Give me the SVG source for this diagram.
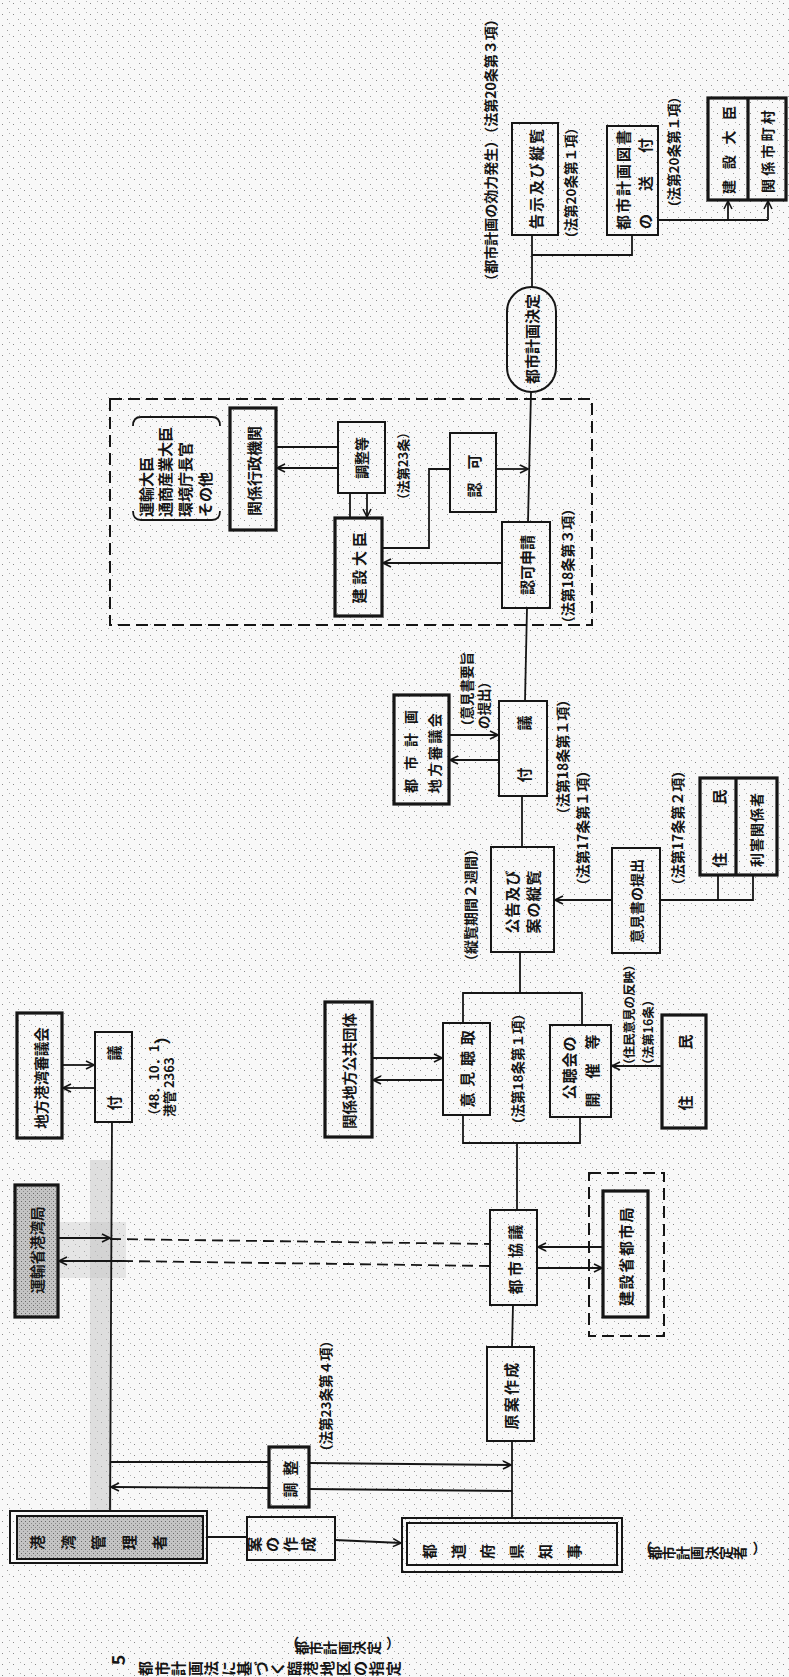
<svg xmlns="http://www.w3.org/2000/svg" width="789" height="1677" viewBox="0 0 789 1677">
<defs>
<style>
.t{font-family:"Noto Sans CJK JP","Noto Sans CJK SC",sans-serif;font-weight:700;fill:#151515}
.r{text-anchor:middle;dominant-baseline:central}
.rs{text-anchor:start;dominant-baseline:central}
.g{text-anchor:start;dominant-baseline:central}
.bx{fill:none;stroke:#151515;stroke-width:2}
.bk{fill:none;stroke:#151515;stroke-width:3.2}
.gy{fill:url(#gray);stroke:#151515;stroke-width:3.2}
.ds{fill:none;stroke:#151515;stroke-width:2;stroke-dasharray:12 6}
.ln{fill:none;stroke:#151515;stroke-width:1.8}
.dl{fill:none;stroke:#151515;stroke-width:1.8;stroke-dasharray:11 6}
.ar{marker-end:url(#ah)}
</style>
<marker id="ah" markerWidth="10" markerHeight="10" refX="9" refY="5" orient="auto" markerUnits="userSpaceOnUse">
<path d="M1,1 L9,5 L1,9" fill="none" stroke="#151515" stroke-width="1.6"/>
</marker>
<pattern id="dots" width="11" height="11" patternUnits="userSpaceOnUse">
<rect width="11" height="11" fill="#f8f8f8"/>
<rect x="2" y="3" width="1" height="1" fill="#8a8a8a"/>
<rect x="7" y="8" width="1" height="1" fill="#9a9a9a"/>
<rect x="9" y="1" width="1" height="1" fill="#b0b0b0"/>
</pattern>
<pattern id="gray" width="4" height="4" patternUnits="userSpaceOnUse">
<rect width="4" height="4" fill="#c4c4c4"/>
<rect x="1" y="1" width="1" height="1" fill="#6a6a6a"/>
<rect x="3" y="3" width="1" height="1" fill="#8a8a8a"/>
</pattern>
</defs>
<rect width="789" height="1677" fill="url(#dots)"/>
<rect x="90" y="1160" width="22" height="351" fill="#c4c4c4" opacity="0.5"/>
<rect x="58" y="1222" width="68" height="56" fill="#c4c4c4" opacity="0.35"/>

<!-- top area -->
<g id="label-kouryoku"><text class="t r" font-size="14" x="490" y="150" transform="rotate(-90 490 150)">（都市計画の効力発生）（法第20条第３項）</text></g>
<g id="n-kokuji"><rect class="bx" x="512" y="123" width="46" height="112"/><text class="t r" font-size="15" letter-spacing="2" x="535" y="178" transform="rotate(-90 535 178)">告示及び縦覧</text></g>
<g id="label-20-1a"><text class="t r" font-size="13.5" x="570" y="183" transform="rotate(-90 570 183)">（法第20条第１項）</text></g>
<g id="n-tosho"><rect class="bx" x="607" y="126" width="51" height="109"/>
<text class="t r" font-size="15" letter-spacing="2" x="622" y="179" transform="rotate(-90 622 179)">都市計画図書</text>
<text class="t r" font-size="15" letter-spacing="4" x="644" y="181.5" transform="rotate(-90 644 181.5)">の　送　付</text></g>
<g id="label-20-1b"><text class="t r" font-size="13.5" x="673" y="152" transform="rotate(-90 673 152)">（法第20条第１項）</text></g>
<g id="n-daijin-shichoson"><rect class="bk" x="708" y="98" width="78" height="102"/><line class="bk" x1="748" y1="98" x2="748" y2="200"/>
<text class="t r" font-size="14" letter-spacing="10.7" x="728" y="144.6" transform="rotate(-90 728 144.6)">建設大臣</text>
<text class="t r" font-size="14" letter-spacing="3.2" x="767" y="150" transform="rotate(-90 767 150)">関係市町村</text></g>
<g id="n-kettei"><rect class="bx" x="507" y="287" width="49" height="105" rx="24.5"/><text class="t r" font-size="15" x="531" y="339" transform="rotate(-90 531 339)">都市計画決定</text></g>

<!-- dashed ministerial box -->
<g id="g-ninka-area"><rect class="ds" x="110" y="399" width="482" height="226"/></g>
<g id="n-others">
<path class="ln" stroke-width="2" d="M133,426 Q133,417 141,417 L212,417 Q220,417 220,426"/>
<path class="ln" stroke-width="2" d="M133,511 Q133,520 141,520 L212,520 Q220,520 220,511"/>
<text class="t rs" font-size="15" x="145" y="517" transform="rotate(-90 145 517)">運輸大臣</text>
<text class="t rs" font-size="15" x="164" y="517" transform="rotate(-90 164 517)">通商産業大臣</text>
<text class="t rs" font-size="15" x="184" y="517" transform="rotate(-90 184 517)">環境庁長官</text>
<text class="t rs" font-size="15" x="204" y="517" transform="rotate(-90 204 517)">その他</text></g>
<g id="n-gyosei"><rect class="bk" x="230" y="408" width="46" height="122"/><text class="t r" font-size="15" x="253" y="471" transform="rotate(-90 253 471)">関係行政機関</text></g>
<g id="n-chosei-to"><rect class="bx" x="338" y="422" width="47" height="71"/><text class="t r" font-size="14" x="361" y="458" transform="rotate(-90 361 458)">調整等</text></g>
<g id="label-23"><text class="t r" font-size="13" x="402" y="466" transform="rotate(-90 402 466)">（法第23条）</text></g>
<g id="n-kensetsu"><rect class="bk" x="335" y="518" width="47" height="98"/><text class="t r" font-size="15" letter-spacing="3.7" x="358" y="566" transform="rotate(-90 358 566)">建設大臣</text></g>
<g id="n-ninka"><rect class="bx" x="450" y="433" width="46" height="79"/><text class="t r" font-size="15" letter-spacing="13" x="473" y="469.5" transform="rotate(-90 473 469.5)">認可</text></g>
<g id="n-shinsei"><rect class="bx" x="502" y="522" width="48" height="86"/><text class="t r" font-size="15" x="526" y="565" transform="rotate(-90 526 565)">認可申請</text></g>
<g id="label-18-3"><text class="t r" font-size="14" x="567" y="566" transform="rotate(-90 567 566)">（法第18条第３項）</text></g>

<!-- middle -->
<g id="n-shingikai"><rect class="bk" x="394" y="695" width="55" height="109"/>
<text class="t r" font-size="14" letter-spacing="9" x="410" y="747" transform="rotate(-90 410 747)">都市計画</text>
<text class="t r" font-size="14" letter-spacing="2.5" x="434" y="752" transform="rotate(-90 434 752)">地方審議会</text></g>
<g id="label-yoshi">
<text class="t rs" font-size="13.5" x="466" y="733" transform="rotate(-90 466 733)">（意見書要旨</text>
<text class="t rs" font-size="13.5" x="483" y="729" transform="rotate(-90 483 729)">の提出）</text></g>
<g id="n-fugi"><rect class="bx" x="499" y="701" width="48" height="95"/><text class="t r" font-size="15" letter-spacing="37" x="523" y="730.5" transform="rotate(-90 523 730.5)">付議</text></g>
<g id="label-18-1a"><text class="t r" font-size="14" x="562" y="757" transform="rotate(-90 562 757)">（法第18条第１項）</text></g>
<g id="label-17-1"><text class="t r" font-size="14" x="582" y="828" transform="rotate(-90 582 828)">（法第17条第１項）</text></g>
<g id="label-17-2"><text class="t r" font-size="14" x="677" y="828" transform="rotate(-90 677 828)">（法第17条第２項）</text></g>
<g id="label-2weeks"><text class="t r" font-size="14" x="470" y="905" transform="rotate(-90 470 905)">（縦覧期間２週間）</text></g>
<g id="n-kokoku"><rect class="bx" x="491" y="847" width="63" height="105"/>
<text class="t r" font-size="15" letter-spacing="1" x="511" y="901.5" transform="rotate(-90 511 901.5)">公告及び</text>
<text class="t r" font-size="15" letter-spacing="1" x="532" y="901.5" transform="rotate(-90 532 901.5)">案の縦覧</text></g>
<g id="n-ikensho"><rect class="bx" x="612" y="848" width="48" height="105"/><text class="t r" font-size="14" x="636" y="901" transform="rotate(-90 636 901)">意見書の提出</text></g>
<g id="n-jumin-rigai"><rect class="bk" x="700" y="778" width="77" height="97"/><line class="bk" x1="736" y1="778" x2="736" y2="875"/>
<text class="t r" font-size="15" letter-spacing="48" x="718" y="804.5" transform="rotate(-90 718 804.5)">住民</text>
<text class="t r" font-size="14" letter-spacing="1" x="756" y="829.5" transform="rotate(-90 756 829.5)">利害関係者</text></g>

<g id="n-iken"><rect class="bx" x="443" y="1023" width="47" height="92"/><text class="t r" font-size="15" letter-spacing="5.7" x="466" y="1066" transform="rotate(-90 466 1066)">意見聴取</text></g>
<g id="n-kokyo"><rect class="bk" x="325" y="1002" width="47" height="135"/><text class="t r" font-size="14.5" x="348" y="1071" transform="rotate(-90 348 1071)">関係地方公共団体</text></g>
<g id="label-18-1b"><text class="t r" font-size="13.5" x="517" y="1069" transform="rotate(-90 517 1069)">（法第18条第１項）</text></g>
<g id="n-kochokai"><rect class="bx" x="550" y="1025" width="61" height="92"/>
<text class="t r" font-size="15" letter-spacing="1" x="568" y="1067.5" transform="rotate(-90 568 1067.5)">公聴会の</text>
<text class="t r" font-size="15" letter-spacing="14" x="591" y="1064" transform="rotate(-90 591 1064)">開催等</text></g>
<g id="label-16">
<text class="t rs" font-size="12.5" x="628" y="1071" transform="rotate(-90 628 1071)">（住民意見の反映）</text>
<text class="t rs" font-size="12.5" x="647" y="1071" transform="rotate(-90 647 1071)">（法第16条）</text></g>
<g id="n-jumin"><rect class="bk" x="662" y="1015" width="44" height="113"/><text class="t r" font-size="15" letter-spacing="46" x="684" y="1049.5" transform="rotate(-90 684 1049.5)">住民</text></g>
<g id="n-toshi-kyogi"><rect class="bx" x="490" y="1210" width="47" height="95"/><text class="t r" font-size="15" letter-spacing="3.3" x="514" y="1258" transform="rotate(-90 514 1258)">都市協議</text></g>
<g id="n-toshikyoku"><rect class="ds" x="589" y="1173" width="75" height="163"/><rect class="bk" x="603" y="1191" width="45" height="126"/><text class="t r" font-size="15" letter-spacing="1.7" x="625" y="1256" transform="rotate(-90 625 1256)">建設省都市局</text></g>
<g id="n-genan"><rect class="bx" x="487" y="1347" width="47" height="94"/><text class="t r" font-size="15" letter-spacing="2.3" x="510" y="1395" transform="rotate(-90 510 1395)">原案作成</text></g>

<!-- left -->
<g id="n-kowan-shingikai"><rect class="bk" x="17" y="1013" width="45" height="125"/><text class="t r" font-size="14.5" x="40" y="1078" transform="rotate(-90 40 1078)">地方港湾審議会</text></g>
<g id="n-fugi2"><rect class="bx" x="95" y="1032" width="37" height="90"/><text class="t r" font-size="15" letter-spacing="35" x="113" y="1060.5" transform="rotate(-90 113 1060.5)">付議</text></g>
<g id="label-48">
<text class="t rs" font-size="13" x="153" y="1122" transform="rotate(-90 153 1122)">（48．10．1．</text>
<text class="t rs" font-size="13" x="168" y="1117" transform="rotate(-90 168 1117)">港管 2363</text>
<text class="t r" font-size="17" x="161" y="1036" transform="rotate(-90 161 1036)">）</text></g>
<g id="n-kowankyoku"><rect class="gy" x="15" y="1185" width="43" height="132"/><text class="t r" font-size="14.5" x="36" y="1250" transform="rotate(-90 36 1250)">運輸省港湾局</text></g>
<g id="n-chosei"><rect class="bk" x="269" y="1447" width="40" height="60"/><text class="t r" font-size="15" letter-spacing="7" x="289" y="1475.5" transform="rotate(-90 289 1475.5)">調整</text></g>
<g id="label-23-4"><text class="t r" font-size="13.5" x="325" y="1396" transform="rotate(-90 325 1396)">（法第23条第４項）</text></g>
<g id="n-kanrisha"><rect class="bx" stroke-width="2.5" x="10" y="1511" width="197" height="52"/><rect x="17" y="1516" width="186" height="43" fill="url(#gray)" stroke="#151515" stroke-width="2"/>
<text class="t g" font-size="15" x="43 73.5 104 134.5 165" y="1543.5" rotate="-90">港湾管理者</text></g>
<g id="n-an"><rect class="bx" x="247" y="1517" width="88" height="43"/><text class="t g" font-size="15" x="260 278 296 314" y="1545.5" rotate="-90">案の作成</text></g>
<g id="n-chiji"><rect class="bx" stroke-width="2.5" x="402" y="1518" width="220" height="54"/><rect class="bx" stroke-width="1.5" x="407" y="1523" width="210" height="42"/>
<text class="t g" font-size="15" x="435 464 493 522 551 580" y="1552.5" rotate="-90">都道府県知事</text></g>
<g id="label-ketteisha"><text class="t g" font-size="14" x="638.2 659.5 673.8 688.1 702.4 716.7 731 745.3 752.6" y="1547 1554 1554 1554 1554 1554 1554 1554 1547" rotate="0 -90 -90 -90 -90 -90 -90 -90 0">（都市計画決定者）</text></g>
<g id="caption">
<text class="t g" font-size="14" x="285.2 306.6 321 335.4 349.8 364.2 378.6 386" y="1642 1649 1649 1649 1649 1649 1649 1642" rotate="0 -90 -90 -90 -90 -90 -90 0">（都市計画決定）</text>
<text class="t r" font-size="18" x="117" y="1660" transform="rotate(-90 117 1660)">5</text>
<text class="t g" font-size="15" x="151.3 167.8 184.3 200.8 217.3 233.8 250.3 266.8 283.3 299.8 316.3 332.8 349.3 365.8 382.3 398.8" y="1669.5" rotate="-90">都市計画法に基づく臨港地区の指定</text></g>

<g id="connectors">
<line class="ln" x1="532" y1="287" x2="532" y2="235"/>
<polyline class="ln" points="532,255 632,255 632,235"/>
<line class="ln" x1="658" y1="220" x2="768" y2="220"/>
<line class="ln ar" x1="728" y1="220" x2="728" y2="201"/>
<line class="ln ar" x1="768" y1="220" x2="768" y2="201"/>
<line class="ln" x1="276" y1="447" x2="338" y2="447"/>
<line class="ln ar" x1="338" y1="468" x2="277" y2="468"/>
<line class="ln" x1="350" y1="493" x2="350" y2="518"/>
<line class="ln ar" x1="367" y1="493" x2="367" y2="517"/>
<polyline class="ln" points="382,548 429,548 429,469 450,469"/>
<line class="ln ar" x1="496" y1="469" x2="528" y2="469"/>
<line class="ln ar" x1="502" y1="563" x2="383" y2="563"/>
<line class="ln" x1="531" y1="392" x2="528" y2="522"/>
<line class="ln" x1="527" y1="608" x2="525" y2="701"/>
<line class="ln ar" x1="449" y1="735" x2="498" y2="735"/>
<line class="ln ar" x1="499" y1="760" x2="450" y2="760"/>
<line class="ln" x1="522" y1="796" x2="522" y2="847"/>
<line class="ln ar" x1="612" y1="900" x2="555" y2="900"/>
<polyline class="ln" points="660,900 753,900 753,875"/>
<line class="ln" x1="718" y1="900" x2="718" y2="875"/>
<line class="ln" x1="520" y1="952" x2="520" y2="993"/>
<polyline class="ln" points="463,1023 463,993 582,993 582,1025"/>
<line class="ln ar" x1="372" y1="1058" x2="442" y2="1058"/>
<line class="ln ar" x1="443" y1="1080" x2="373" y2="1080"/>
<line class="ln ar" x1="662" y1="1066" x2="612" y2="1066"/>
<polyline class="ln" points="463,1115 463,1143 580,1143 580,1117"/>
<line class="ln" x1="517" y1="1143" x2="517" y2="1210"/>
<line class="ln ar" x1="603" y1="1247" x2="538" y2="1247"/>
<line class="ln ar" x1="537" y1="1268" x2="602" y2="1268"/>
<line class="dl" x1="110" y1="1239" x2="490" y2="1244"/>
<line class="dl" x1="490" y1="1266" x2="122" y2="1261"/>
<line class="ln ar" x1="58" y1="1238" x2="110" y2="1238"/>
<line class="ln ar" x1="122" y1="1261" x2="59" y2="1261"/>
<line class="ln" x1="513" y1="1305" x2="512" y2="1347"/>
<line class="ln" x1="512" y1="1441" x2="512" y2="1518"/>
<line class="ln ar" x1="62" y1="1065" x2="94" y2="1065"/>
<line class="ln ar" x1="95" y1="1088" x2="63" y2="1088"/>
<line class="ln" x1="112" y1="1122" x2="110" y2="1511"/>
<line class="ln" x1="110" y1="1462" x2="269" y2="1462"/>
<line class="ln ar" x1="309" y1="1463" x2="511" y2="1465"/>
<line class="ln" x1="512" y1="1491" x2="309" y2="1489"/>
<line class="ln ar" x1="269" y1="1488" x2="111" y2="1487"/>
<line class="ln" x1="207" y1="1537" x2="247" y2="1537"/>
<line class="ln ar" x1="335" y1="1540" x2="401" y2="1543"/>
</g>
</svg>
